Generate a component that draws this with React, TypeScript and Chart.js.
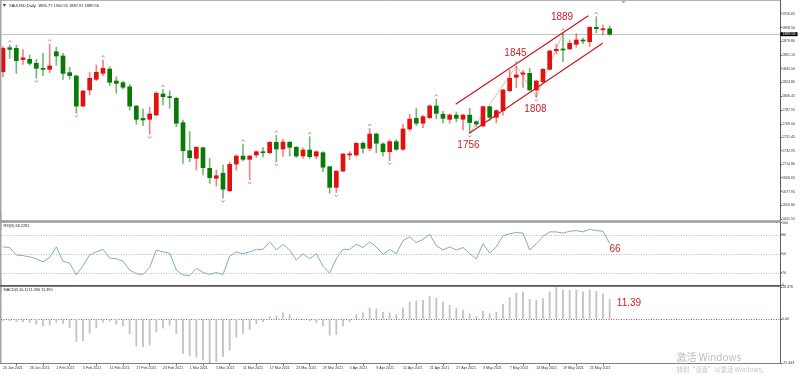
import React, { useEffect, useRef } from "react";
import { Chart, registerables } from "chart.js";

Chart.register(...registerables);

// ---------------- DATA ----------------
const dates = [
  "20 Jan 2021", "21 Jan 2021", "22 Jan 2021", "25 Jan 2021", "26 Jan 2021", "27 Jan 2021", "28 Jan 2021", "29 Jan 2021",
  "1 Feb 2021", "2 Feb 2021", "3 Feb 2021", "4 Feb 2021", "5 Feb 2021", "8 Feb 2021", "9 Feb 2021", "10 Feb 2021",
  "11 Feb 2021", "12 Feb 2021", "15 Feb 2021", "16 Feb 2021", "17 Feb 2021", "18 Feb 2021", "19 Feb 2021", "22 Feb 2021",
  "23 Feb 2021", "24 Feb 2021", "25 Feb 2021", "26 Feb 2021",
  "1 Mar 2021", "2 Mar 2021", "3 Mar 2021", "4 Mar 2021", "5 Mar 2021", "8 Mar 2021", "9 Mar 2021", "10 Mar 2021",
  "11 Mar 2021", "12 Mar 2021", "15 Mar 2021", "16 Mar 2021", "17 Mar 2021", "18 Mar 2021", "19 Mar 2021", "22 Mar 2021",
  "23 Mar 2021", "24 Mar 2021", "25 Mar 2021", "26 Mar 2021", "29 Mar 2021", "30 Mar 2021", "31 Mar 2021",
  "1 Apr 2021", "5 Apr 2021", "6 Apr 2021", "7 Apr 2021", "8 Apr 2021", "9 Apr 2021", "12 Apr 2021", "13 Apr 2021",
  "14 Apr 2021", "15 Apr 2021", "16 Apr 2021", "19 Apr 2021", "20 Apr 2021", "21 Apr 2021", "22 Apr 2021", "23 Apr 2021",
  "26 Apr 2021", "27 Apr 2021", "28 Apr 2021", "29 Apr 2021", "30 Apr 2021",
  "3 May 2021", "4 May 2021", "5 May 2021", "6 May 2021", "7 May 2021", "10 May 2021", "11 May 2021", "12 May 2021",
  "13 May 2021", "14 May 2021", "17 May 2021", "18 May 2021", "19 May 2021", "20 May 2021", "21 May 2021", "24 May 2021",
  "25 May 2021", "26 May 2021", "27 May 2021", "28 May 2021",
];

const tickDates = [
  "20 Jan 2021", "26 Jan 2021", "1 Feb 2021", "5 Feb 2021", "11 Feb 2021", "17 Feb 2021", "23 Feb 2021",
  "1 Mar 2021", "5 Mar 2021", "11 Mar 2021", "17 Mar 2021", "23 Mar 2021", "29 Mar 2021", "5 Apr 2021",
  "9 Apr 2021", "15 Apr 2021", "21 Apr 2021", "27 Apr 2021", "3 May 2021", "7 May 2021", "13 May 2021",
  "19 May 2021", "25 May 2021",
];

const opens = [
  1839.2, 1871.4, 1870.6, 1855.5, 1855.8, 1850.5, 1843.8, 1842.4, 1866.0, 1860.3,
  1838.0, 1833.4, 1793.1, 1814.7, 1829.0, 1837.0, 1842.8, 1826.7, 1824.5, 1819.0,
  1793.1, 1776.6, 1775.3, 1781.1, 1809.3, 1805.5, 1803.5, 1770.8, 1733.2, 1723.0,
  1737.2, 1709.6, 1696.2, 1703.0, 1679.5, 1715.3, 1726.0, 1721.6, 1727.4, 1731.8,
  1730.5, 1744.5, 1735.5, 1744.5, 1737.8, 1726.1, 1734.1, 1726.0, 1730.5, 1711.7,
  1684.0, 1705.9, 1727.5, 1727.4, 1743.2, 1736.4, 1755.6, 1742.2, 1731.8, 1745.3,
  1735.1, 1762.4, 1776.6, 1770.0, 1777.5, 1793.2, 1782.0, 1775.3, 1781.0, 1775.4,
  1781.0, 1772.0, 1766.4, 1792.3, 1778.0, 1786.9, 1813.7, 1831.7, 1835.8, 1837.0,
  1814.7, 1825.8, 1842.4, 1867.4, 1869.3, 1869.7, 1876.0, 1881.8, 1879.5, 1898.8,
  1895.5, 1896.77,
];

const highs = [
  1872.8, 1875.0, 1875.0, 1869.0, 1861.6, 1855.8, 1863.9, 1876.4, 1872.0, 1864.0,
  1845.0, 1834.8, 1814.7, 1838.0, 1848.2, 1854.9, 1846.0, 1832.5, 1826.7, 1822.0,
  1794.0, 1789.0, 1791.4, 1812.4, 1815.4, 1813.7, 1805.0, 1774.4, 1759.0, 1738.5,
  1738.0, 1723.0, 1707.3, 1714.0, 1718.0, 1728.0, 1742.0, 1727.0, 1733.0, 1737.5,
  1745.5, 1754.0, 1748.5, 1746.0, 1739.0, 1737.0, 1752.0, 1733.0, 1732.0, 1712.5,
  1706.5, 1729.5, 1732.0, 1744.0, 1745.0, 1763.0, 1757.0, 1744.0, 1748.0, 1748.0,
  1769.0, 1782.0, 1790.0, 1781.0, 1795.0, 1802.6, 1786.0, 1782.5, 1785.0, 1782.0,
  1790.0, 1773.5, 1793.0, 1793.0, 1788.5, 1815.6, 1841.5, 1846.9, 1841.0, 1844.0,
  1828.0, 1843.5, 1868.3, 1876.0, 1891.0, 1881.8, 1890.0, 1884.5, 1899.7, 1913.1,
  1902.0, 1900.55,
];

const lows = [
  1832.5, 1857.0, 1837.0, 1849.0, 1848.0, 1830.4, 1833.9, 1838.0, 1848.0, 1829.0,
  1829.0, 1783.4, 1792.3, 1808.0, 1827.0, 1834.0, 1820.4, 1810.2, 1816.0, 1787.8,
  1768.6, 1766.7, 1755.2, 1780.0, 1794.5, 1790.0, 1765.4, 1716.3, 1718.5, 1707.3,
  1700.6, 1689.4, 1685.8, 1669.4, 1678.0, 1707.0, 1719.5, 1694.0, 1724.0, 1725.0,
  1729.0, 1718.0, 1726.0, 1726.0, 1724.0, 1723.0, 1723.0, 1722.0, 1705.0, 1676.0,
  1677.0, 1705.0, 1721.0, 1726.0, 1730.0, 1733.0, 1730.5, 1726.0, 1719.8, 1733.6,
  1734.0, 1760.0, 1767.0, 1764.0, 1776.0, 1776.0, 1770.5, 1770.0, 1772.0, 1761.0,
  1756.6, 1766.0, 1765.5, 1773.5, 1770.5, 1781.0, 1812.0, 1818.0, 1818.0, 1813.8,
  1804.9, 1824.5, 1841.5, 1863.0, 1852.6, 1869.0, 1872.0, 1877.0, 1873.0, 1891.6,
  1888.5, 1887.91,
];

const closes = [
  1870.6, 1869.2, 1854.0, 1857.8, 1850.5, 1843.8, 1842.4, 1846.9, 1860.3, 1837.0,
  1834.0, 1793.1, 1813.3, 1830.3, 1838.4, 1843.8, 1825.0, 1823.6, 1818.3, 1793.1,
  1775.3, 1774.4, 1782.5, 1810.2, 1805.6, 1804.5, 1770.0, 1733.2, 1723.8, 1737.8,
  1710.4, 1697.0, 1699.6, 1681.5, 1714.9, 1726.0, 1721.6, 1726.0, 1731.8, 1730.5,
  1744.5, 1735.5, 1744.8, 1737.8, 1726.1, 1734.1, 1725.2, 1731.8, 1711.0, 1684.0,
  1705.7, 1728.8, 1729.0, 1743.2, 1736.4, 1755.6, 1743.2, 1731.8, 1745.3, 1735.1,
  1762.4, 1775.7, 1770.0, 1778.8, 1793.2, 1783.4, 1776.6, 1781.1, 1776.6, 1781.0,
  1771.0, 1769.0, 1792.3, 1778.0, 1786.9, 1814.7, 1830.4, 1834.8, 1837.6, 1814.7,
  1826.7, 1842.4, 1867.0, 1869.3, 1868.4, 1877.3, 1881.8, 1880.4, 1898.8, 1897.0,
  1896.5, 1889.56,
];

const rsiValues = [
  61, 60, 48, 47, 45, 42, 37, 44, 61, 38,
  35, 16, 31, 48, 53, 57, 43, 42, 38, 24,
  18, 17, 28, 56, 53, 51, 24, 16, 15, 27,
  20, 17, 20, 17, 46, 53, 50, 53, 57, 57,
  69, 56, 65, 56, 40, 50, 42, 50, 30, 19,
  42, 57, 57, 65, 60, 69, 61, 49, 57, 50,
  71, 77, 68, 73, 81, 63, 56, 61, 56, 60,
  50, 42, 66, 51, 61, 79, 82, 84, 83, 56,
  66, 78, 85, 85, 83, 86, 87, 85, 89, 87,
  86, 66.2281,
];

const macdValues = [
  -0.8, -1.0, -1.5, -1.6, -2.0, -3.0, -4.0, -3.4, -1.8, -2.5,
  -5.0, -13.0, -12.5, -8.2, -5.0, -1.8, -1.2, -3.0, -4.0, -8.5,
  -15.5, -16.0, -15.0, -7.5, -5.2, -3.5, -8.5, -20.0, -21.0, -22.0,
  -23.5, -25.343, -24.5, -21.5, -18.0, -10.5, -8.3, -6.0, -2.8, -1.5,
  1.5, 1.9, 3.6, 2.6, 0.1, -0.3, -1.0, -2.0, -4.0, -9.4,
  -8.9, -4.0, -1.5, 2.5, 3.6, 6.4, 5.9, 3.9, 3.6, 2.5,
  6.5, 9.8, 10.4, 10.8, 13.0, 12.0, 9.8, 7.9, 6.1, 5.1,
  3.1, 1.5, 4.5, 3.1, 3.9, 8.5, 12.4, 15.0, 15.7, 11.4,
  10.8, 11.8, 15.7, 18.476, 16.9, 16.7, 16.7, 15.7, 16.7, 15.9,
  14.4, 11.39,
];

const priceTicks = [
  1916.65, 1898.5, 1879.8, 1861.1, 1843.5, 1824.8, 1806.45, 1787.55,
  1769.0, 1751.45, 1732.95, 1714.8, 1696.65, 1677.95, 1659.8, 1641.55,
];
const rsiTicks = [100, 80, 50, 20, 0];
const rsiLevels = [80, 50, 20];
const macdTicks = [18.476, 0, -25.343];

const fractalUp = [1, 7, 15, 24, 36, 41, 46, 55, 65, 77, 84, 89];
const fractalDown = [5, 11, 22, 33, 37, 41, 50, 58, 70, 80];

const channelUpper = [{ x: 67.9, y: 1795.5 }, { x: 87.8, y: 1914.4 }];
const channelLower = [{ x: 69.94, y: 1756.6 }, { x: 89.95, y: 1877.3 }];
const zigzag = [
  { x: 70, y: 1756.6 }, { x: 77, y: 1846.9 }, { x: 80, y: 1804.9 }, { x: 84, y: 1891.0 },
];
const priceNotes = [
  { text: "1889", x: 83.85, y: 1912.6 },
  { text: "1845", x: 76.87, y: 1863.4 },
  { text: "1808", x: 79.87, y: 1788.5 },
  { text: "1756", x: 69.82, y: 1740.4 },
];
const rsiNote = { text: "66", x: 91.8, y: 57.6 };
const macdNote = { text: "11.39", x: 93.9, y: 9.25 };

const lastPrice = 1889.56;
const mainTitle = "XAUUSD,Daily  1896.77 1900.55 1887.91 1889.56";
const rsiTitle = "RSI(3) 66.2281";
const macdTitle = "MACD(5,10,1) 11.390 11.390";

// ---------------- STYLE / LAYOUT ----------------
const FONT = "'Liberation Sans', 'DejaVu Sans', sans-serif";
const AXIS_FONT = { family: FONT, size: 3.6, lineHeight: 1 };
const UP = "#e21010";
const DOWN = "#077a07";
const UP_WICK = "rgba(224,30,30,0.55)";
const DOWN_WICK = "rgba(7,122,7,0.55)";
const NOTE = "#cf2027";
const X_MIN = -0.3;
const X_MAX = 116.55;
const MAIN_TOP = 0, MAIN_H = 230;
const RSI_TOP = 214, RSI_H = 80;
const MACD_TOP = 279, MACD_H = 96;

function seg(ctx: any, x1: number, y1: number, x2: number, y2: number, color: string, width: number, dash?: number[]) {
  ctx.save();
  ctx.strokeStyle = color;
  ctx.lineWidth = width;
  ctx.setLineDash(dash || []);
  ctx.beginPath();
  ctx.moveTo(x1, y1);
  ctx.lineTo(x2, y2);
  ctx.stroke();
  ctx.restore();
}

function drawFrame(ctx: any, top: number) {
  ctx.save();
  ctx.translate(0, -top);
  seg(ctx, 0, 0.5, 781, 0.5, "#b4b4b4", 1);
  seg(ctx, 0.75, 0, 0.75, 364, "#a4a4a4", 1.5);
  seg(ctx, 780.5, 0, 780.5, 364, "#5c5c5c", 1);
  seg(ctx, 0, 221.5, 781, 221.5, "#9a9a9a", 2);
  seg(ctx, 0, 285.8, 781, 285.8, "#505050", 1.2);
  seg(ctx, 0, 363.5, 781, 363.5, "#808080", 1);
  ctx.restore();
}

function text(ctx: any, s: string, x: number, y: number, font: string, color: string, align = "left") {
  ctx.save();
  ctx.font = font;
  ctx.fillStyle = color;
  ctx.textAlign = align;
  ctx.textBaseline = "middle";
  ctx.fillText(s, x, y);
  ctx.restore();
}

const yAxisBase = (ticks: number[], fmt: (v: number) => string) => ({
  type: "linear",
  position: "right",
  afterFit: (s: any) => { s.width = 20; },
  afterBuildTicks: (s: any) => { s.ticks = ticks.map((v) => ({ value: v })); },
  ticks: { font: AXIS_FONT, color: "#333", padding: 0, autoSkip: false, callback: (v: any) => fmt(Number(v)) },
  grid: { display: true, drawOnChartArea: false, drawTicks: true, tickLength: 2, color: "#666", lineWidth: 1 },
  border: { display: false },
});

const hiddenX = { type: "linear", min: X_MIN, max: X_MAX, display: false, offset: false };

const common = {
  responsive: false,
  animation: false,
  devicePixelRatio: 1,
  events: [],
  plugins: { legend: { display: false }, tooltip: { enabled: false }, title: { display: false } },
};

const mainPlugin = {
  id: "mainDecor",
  beforeDatasetsDraw(chart: any) {
    const { ctx, chartArea: a, scales } = chart;
    const py = Math.round(scales.y.getPixelForValue(lastPrice)) + 0.5;
    seg(ctx, a.left, py, a.right, py, "#c4c4c4", 1);
  },
  afterDraw(chart: any) {
    const { ctx, chartArea: a, scales } = chart;
    const x = scales.x, y = scales.y;
    ctx.save();
    ctx.strokeStyle = "#8a8a8a";
    ctx.lineWidth = 0.8;
    fractalUp.forEach((i) => {
      const px = x.getPixelForValue(i), py = y.getPixelForValue(highs[i]) - 3.5;
      ctx.beginPath(); ctx.moveTo(px - 1.5, py + 1); ctx.lineTo(px, py - 1); ctx.lineTo(px + 1.5, py + 1); ctx.stroke();
    });
    fractalDown.forEach((i) => {
      const px = x.getPixelForValue(i), py = y.getPixelForValue(lows[i]) + 3;
      ctx.beginPath(); ctx.moveTo(px - 1.5, py - 1); ctx.lineTo(px, py + 1); ctx.lineTo(px + 1.5, py - 1); ctx.stroke();
    });
    ctx.restore();
    priceNotes.forEach((n) => text(ctx, n.text, x.getPixelForValue(n.x), y.getPixelForValue(n.y), `10px ${FONT}`, NOTE, "center"));
    drawFrame(ctx, MAIN_TOP);
    // title
    ctx.save();
    ctx.fillStyle = "#111";
    ctx.beginPath(); ctx.moveTo(2.8, 4.3); ctx.lineTo(6, 4.3); ctx.lineTo(4.4, 6.5); ctx.closePath(); ctx.fill();
    ctx.restore();
    text(ctx, mainTitle, 9, 5.5, `4px ${FONT}`, "#222");
    // chart shift marker
    ctx.save();
    ctx.fillStyle = "#a8a8a8";
    ctx.beginPath(); ctx.moveTo(621.5, 1); ctx.lineTo(625.5, 1); ctx.lineTo(623.5, 3.5); ctx.closePath(); ctx.fill();
    ctx.restore();
    // bid label
    const py = y.getPixelForValue(lastPrice);
    ctx.save();
    ctx.fillStyle = "#000";
    ctx.fillRect(a.right + 0.5, py - 2, 17, 4);
    ctx.restore();
    text(ctx, lastPrice.toFixed(2), a.right + 2.5, py, `3.6px ${FONT}`, "#fff");
  },
};

const rsiPlugin = {
  id: "rsiDecor",
  beforeDatasetsDraw(chart: any) {
    const { ctx, chartArea: a, scales } = chart;
    rsiLevels.forEach((l) => {
      const py = Math.round(scales.y.getPixelForValue(l)) + 0.5;
      seg(ctx, a.left, py, a.right, py, "#a8a8a8", 0.8, [1, 1.5]);
    });
  },
  afterDraw(chart: any) {
    const { ctx, scales } = chart;
    drawFrame(ctx, RSI_TOP);
    text(ctx, rsiTitle, 3.5, 225.5 - RSI_TOP, `3.8px ${FONT}`, "#222");
    text(ctx, rsiNote.text, scales.x.getPixelForValue(rsiNote.x), scales.y.getPixelForValue(rsiNote.y), `10px ${FONT}`, NOTE, "center");
  },
};

const macdPlugin = {
  id: "macdDecor",
  beforeDatasetsDraw(chart: any) {
    const { ctx, chartArea: a, scales } = chart;
    const py = Math.round(scales.y.getPixelForValue(0)) + 0.5;
    seg(ctx, a.left, py, a.right, py, "#a04848", 0.9, [1, 1.5]);
  },
  afterDraw(chart: any) {
    const { ctx, scales } = chart;
    drawFrame(ctx, MACD_TOP);
    text(ctx, macdTitle, 3.5, 289.5 - MACD_TOP, `3.8px ${FONT}`, "#222");
    text(ctx, macdNote.text, scales.x.getPixelForValue(macdNote.x), scales.y.getPixelForValue(macdNote.y), `10px ${FONT}`, NOTE, "center");
    text(ctx, "激活 Windows", 676.5, 357 - MACD_TOP, "10px 'Noto Sans CJK SC'", "#bdbdbd");
    text(ctx, "转到“设置”以激活 Windows。", 676.5, 369.5 - MACD_TOP, "6.3px 'Noto Sans CJK SC'", "#c4c4c4");
  },
};

export default function App() {
  const mainRef = useRef<HTMLCanvasElement>(null);
  const rsiRef = useRef<HTMLCanvasElement>(null);
  const macdRef = useRef<HTMLCanvasElement>(null);

  useEffect(() => {
    const isUp = (i: number) => closes[i] >= opens[i];
    const main = new Chart(mainRef.current as HTMLCanvasElement, {
      type: "bar",
      data: {
        datasets: [
          { type: "line", data: channelUpper, borderColor: "#d1161d", borderWidth: 1.2, pointRadius: 0, order: 1 },
          { type: "line", data: channelLower, borderColor: "#d1161d", borderWidth: 1.2, pointRadius: 0, order: 1 },
          { type: "line", data: zigzag, borderColor: "rgba(170,70,70,0.55)", borderWidth: 0.7, pointRadius: 0, order: 1 },
          {
            data: dates.map((_, i) => ({ x: i, y: [opens[i], closes[i]] })),
            backgroundColor: dates.map((_, i) => (isUp(i) ? UP : DOWN)),
            barThickness: 4,
            minBarLength: 1,
            grouped: false,
            borderWidth: 0,
            order: 2,
          },
          {
            data: dates.map((_, i) => ({ x: i, y: [lows[i], highs[i]] })),
            backgroundColor: dates.map((_, i) => (isUp(i) ? UP_WICK : DOWN_WICK)),
            barThickness: 1,
            grouped: false,
            borderWidth: 0,
            order: 3,
          },
        ] as any,
      },
      options: {
        ...common,
        layout: { padding: { left: 1, right: 0, top: 2, bottom: MAIN_H - 221 } },
        scales: {
          x: hiddenX,
          y: { ...yAxisBase(priceTicks, (v) => v.toFixed(2)), min: 1638.87, max: 1932.75 },
        },
      } as any,
      plugins: [mainPlugin],
    });

    const rsi = new Chart(rsiRef.current as HTMLCanvasElement, {
      type: "line",
      data: {
        datasets: [
          {
            data: rsiValues.map((v, i) => ({ x: i, y: v })),
            borderColor: "#84aac4",
            borderWidth: 1,
            pointRadius: 0,
            tension: 0,
          },
        ],
      },
      options: {
        ...common,
        layout: { padding: { left: 1, right: 0, top: 222.5 - RSI_TOP, bottom: RSI_TOP + RSI_H - 285 } },
        scales: {
          x: hiddenX,
          y: { ...yAxisBase(rsiTicks, (v) => String(v)), min: 0, max: 100 },
        },
      } as any,
      plugins: [rsiPlugin],
    });

    const macd = new Chart(macdRef.current as HTMLCanvasElement, {
      type: "bar",
      data: {
        datasets: [
          {
            data: macdValues.map((v, i) => ({ x: i, y: v })),
            backgroundColor: "#c4c4c4",
            barThickness: 1.2,
            borderWidth: 0,
          },
        ],
      },
      options: {
        ...common,
        layout: { padding: { left: 1, right: 0, top: 287 - MACD_TOP, bottom: 0 } },
        scales: {
          x: {
            type: "linear",
            min: X_MIN,
            max: X_MAX,
            offset: false,
            position: "bottom",
            afterFit: (s: any) => { s.height = MACD_TOP + MACD_H - 363; },
            afterBuildTicks: (s: any) => { s.ticks = tickDates.map((d) => ({ value: dates.indexOf(d) })); },
            ticks: {
              font: AXIS_FONT,
              color: "#333",
              padding: 1,
              align: "start",
              maxRotation: 0,
              minRotation: 0,
              autoSkip: false,
              callback: (v: any) => dates[Number(v)],
            },
            grid: { display: true, drawOnChartArea: false, drawTicks: true, tickLength: 2.5, color: "#666" },
            border: { display: false },
          },
          y: {
            ...yAxisBase(macdTicks, (v) => (v === 0 ? "0.00" : String(v))),
            min: -25.343,
            max: 18.476,
          },
        },
      } as any,
      plugins: [macdPlugin],
    });

    return () => {
      main.destroy();
      rsi.destroy();
      macd.destroy();
    };
  }, []);

  return (
    <div style={{ position: "fixed", left: 0, top: 0, width: 800, height: 375, background: "#fff", overflow: "hidden" }}>
      <canvas ref={mainRef} width={800} height={MAIN_H} style={{ position: "absolute", left: 0, top: MAIN_TOP }} />
      <canvas ref={rsiRef} width={800} height={RSI_H} style={{ position: "absolute", left: 0, top: RSI_TOP }} />
      <canvas ref={macdRef} width={800} height={MACD_H} style={{ position: "absolute", left: 0, top: MACD_TOP }} />
    </div>
  );
}
